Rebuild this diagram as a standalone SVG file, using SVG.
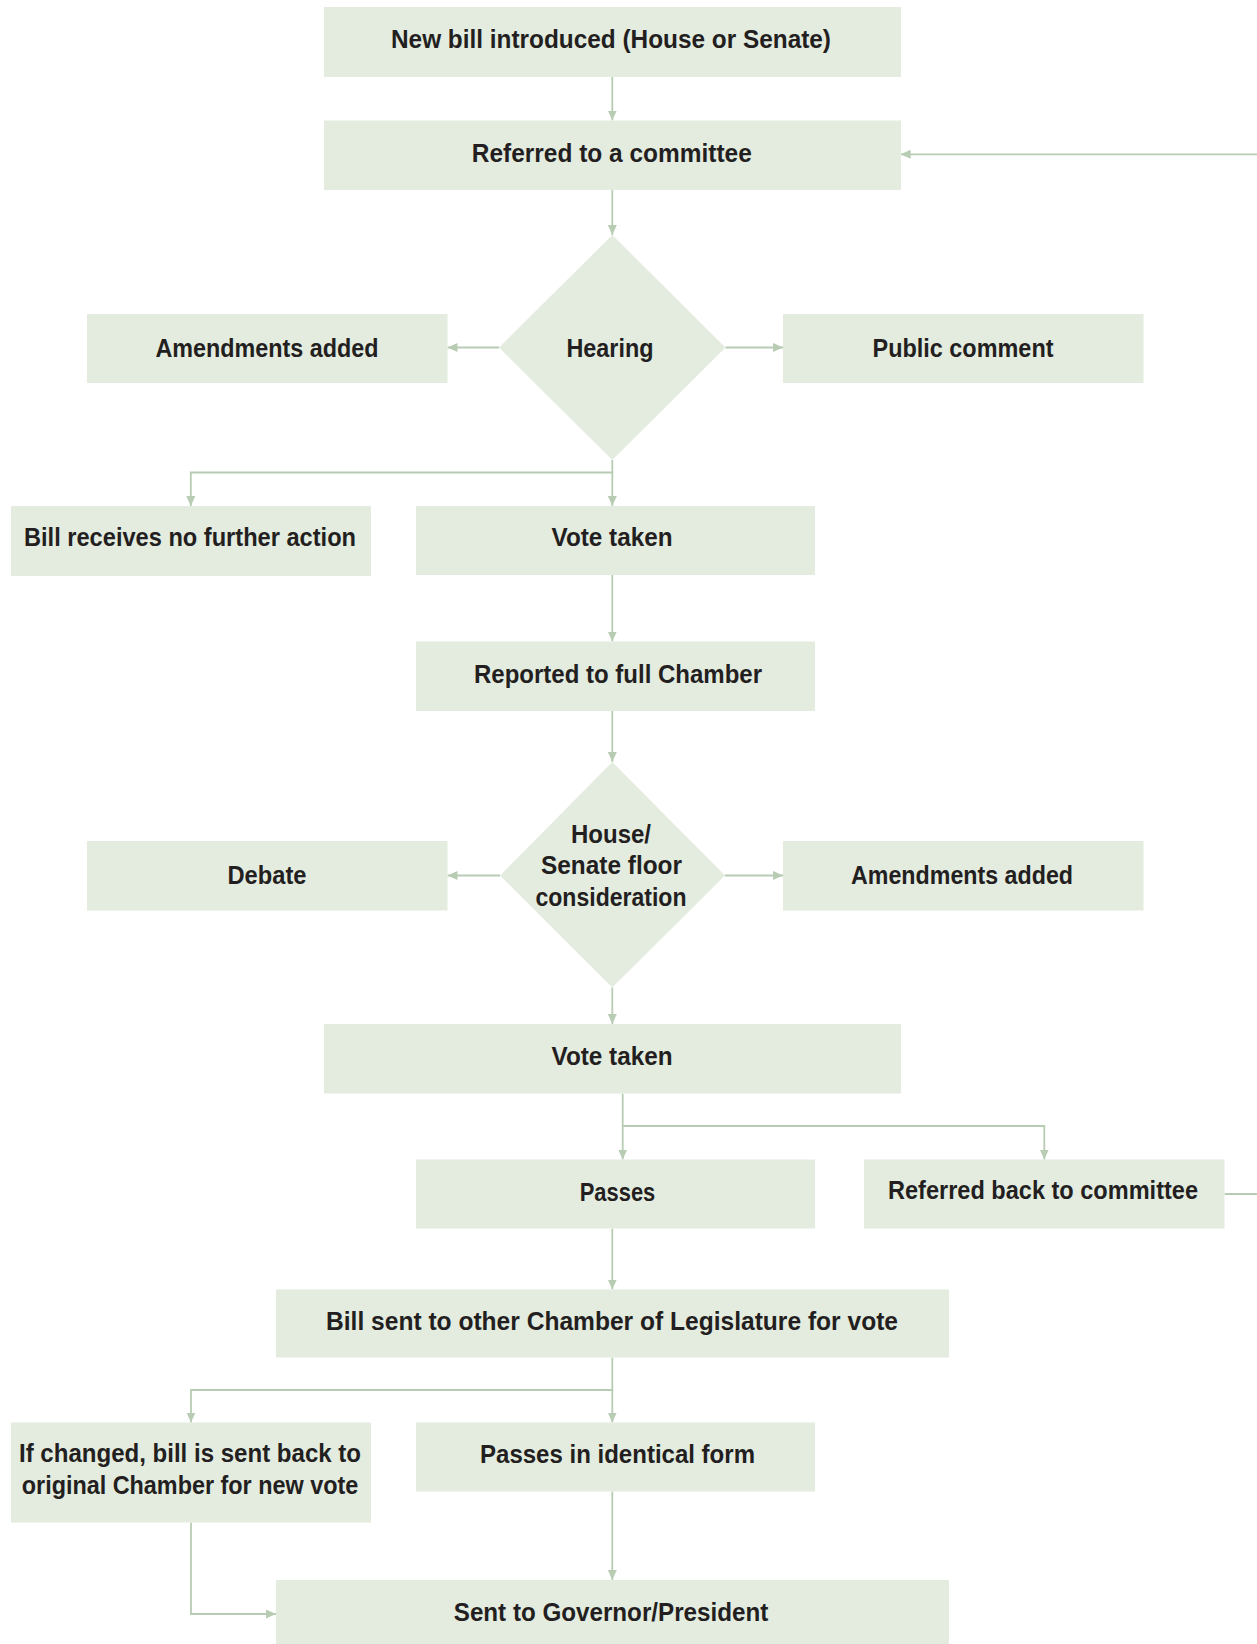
<svg xmlns="http://www.w3.org/2000/svg" width="1257" height="1644" viewBox="0 0 1257 1644">
<defs>
<style>
.box{fill:#e4ece0}
.t{font-family:"Liberation Sans",Arial,sans-serif;font-weight:bold;font-size:25px;fill:#231f20;text-anchor:middle}
.c{fill:none;stroke:#b8ccb3;stroke-width:1.8}
</style>
<marker id="ah" markerUnits="userSpaceOnUse" markerWidth="11" markerHeight="10" refX="10" refY="4.5" orient="auto">
<path d="M0,0 L10,4.5 L0,9 z" fill="#b8ccb3"/>
</marker>
</defs>
<rect width="1257" height="1644" fill="#ffffff"/>
<g id="connectors">
<path class="c" d="M612.3,76.7 V120.5" marker-end="url(#ah)"/>
<path class="c" d="M1257,154.3 H900.6" marker-end="url(#ah)"/>
<path class="c" d="M612.3,190 V235" marker-end="url(#ah)"/>
<path class="c" d="M499,347.5 H447.5" marker-end="url(#ah)"/>
<path class="c" d="M725.5,347.5 H783" marker-end="url(#ah)"/>
<path class="c" d="M612.3,460 V472.5 H190.8 V506" marker-end="url(#ah)"/>
<path class="c" d="M612.3,472.5 V506" marker-end="url(#ah)"/>
<path class="c" d="M612.3,575 V641.5" marker-end="url(#ah)"/>
<path class="c" d="M612.3,711 V762" marker-end="url(#ah)"/>
<path class="c" d="M500,875.5 H447.5" marker-end="url(#ah)"/>
<path class="c" d="M725,875.5 H783" marker-end="url(#ah)"/>
<path class="c" d="M612.3,987.5 V1024" marker-end="url(#ah)"/>
<path class="c" d="M622.7,1093.5 V1159.5" marker-end="url(#ah)"/>
<path class="c" d="M622.7,1126 H1044.3 V1159.5" marker-end="url(#ah)"/>
<path class="c" d="M1224.5,1194 H1257"/>
<path class="c" d="M612.3,1228.5 V1289.5" marker-end="url(#ah)"/>
<path class="c" d="M612.3,1357.5 V1390 H191 V1422.5" marker-end="url(#ah)"/>
<path class="c" d="M612.3,1390 V1422.5" marker-end="url(#ah)"/>
<path class="c" d="M612.3,1491.5 V1580" marker-end="url(#ah)"/>
<path class="c" d="M191,1522.5 V1614 H276" marker-end="url(#ah)"/>
</g>
<g id="n1"><rect class="box" x="324" y="7" width="577" height="70"/><text class="t" x="611" y="48.3" textLength="440" lengthAdjust="spacingAndGlyphs">New bill introduced (House or Senate)</text></g>
<g id="n2"><rect class="box" x="324" y="120.5" width="577" height="69.5"/><text class="t" x="611.8" y="161.5" textLength="280" lengthAdjust="spacingAndGlyphs">Referred to a committee</text></g>
<g id="n3"><polygon class="box" points="612.3,235 725.5,347.5 612.3,460 499,347.5"/><text class="t" x="610" y="356.5" textLength="87" lengthAdjust="spacingAndGlyphs">Hearing</text></g>
<g id="n4"><rect class="box" x="87" y="314" width="360.5" height="69"/><text class="t" x="267" y="356.5" textLength="223" lengthAdjust="spacingAndGlyphs">Amendments added</text></g>
<g id="n5"><rect class="box" x="783" y="314" width="360.5" height="69"/><text class="t" x="963" y="356.5" textLength="181" lengthAdjust="spacingAndGlyphs">Public comment</text></g>
<g id="n6"><rect class="box" x="11" y="506" width="360" height="70"/><text class="t" x="190" y="545.5" textLength="332" lengthAdjust="spacingAndGlyphs">Bill receives no further action</text></g>
<g id="n7"><rect class="box" x="416" y="506" width="399" height="69"/><text class="t" x="612" y="546.3" textLength="121" lengthAdjust="spacingAndGlyphs">Vote taken</text></g>
<g id="n8"><rect class="box" x="416" y="641.5" width="399" height="69.5"/><text class="t" x="618" y="682.5" textLength="288" lengthAdjust="spacingAndGlyphs">Reported to full Chamber</text></g>
<g id="n9"><polygon class="box" points="612.3,762 725,875.5 612.3,987.5 500,875.5"/>
<text class="t" x="611" y="842.5" textLength="80" lengthAdjust="spacingAndGlyphs">House/</text>
<text class="t" x="611.5" y="874" textLength="141" lengthAdjust="spacingAndGlyphs">Senate floor</text>
<text class="t" x="611" y="905.5" textLength="151" lengthAdjust="spacingAndGlyphs">consideration</text></g>
<g id="n10"><rect class="box" x="87" y="841" width="360.5" height="69.5"/><text class="t" x="267" y="884" textLength="79" lengthAdjust="spacingAndGlyphs">Debate</text></g>
<g id="n11"><rect class="box" x="783" y="841" width="360.5" height="69.5"/><text class="t" x="962" y="884" textLength="222" lengthAdjust="spacingAndGlyphs">Amendments added</text></g>
<g id="n12"><rect class="box" x="324" y="1024" width="577" height="69.5"/><text class="t" x="612" y="1065.3" textLength="121" lengthAdjust="spacingAndGlyphs">Vote taken</text></g>
<g id="n13"><rect class="box" x="416" y="1159.5" width="399" height="69"/><text class="t" x="617.5" y="1200.5" textLength="75.5" lengthAdjust="spacingAndGlyphs">Passes</text></g>
<g id="n14"><rect class="box" x="864" y="1159.5" width="360.5" height="69"/><text class="t" x="1043" y="1198.5" textLength="310" lengthAdjust="spacingAndGlyphs">Referred back to committee</text></g>
<g id="n15"><rect class="box" x="276" y="1289.5" width="673" height="68"/><text class="t" x="612" y="1329.5" textLength="572" lengthAdjust="spacingAndGlyphs">Bill sent to other Chamber of Legislature for vote</text></g>
<g id="n16"><rect class="box" x="11" y="1422.5" width="360" height="100"/>
<text class="t" x="190" y="1462" textLength="342" lengthAdjust="spacingAndGlyphs">If changed, bill is sent back to</text>
<text class="t" x="190" y="1493.5" textLength="336.5" lengthAdjust="spacingAndGlyphs">original Chamber for new vote</text></g>
<g id="n17"><rect class="box" x="416" y="1422.5" width="399" height="69"/><text class="t" x="617.5" y="1462.5" textLength="275" lengthAdjust="spacingAndGlyphs">Passes in identical form</text></g>
<g id="n18"><rect class="box" x="276" y="1580" width="673" height="70"/><text class="t" x="611" y="1620.5" textLength="314.5" lengthAdjust="spacingAndGlyphs">Sent to Governor/President</text></g>
</svg>
